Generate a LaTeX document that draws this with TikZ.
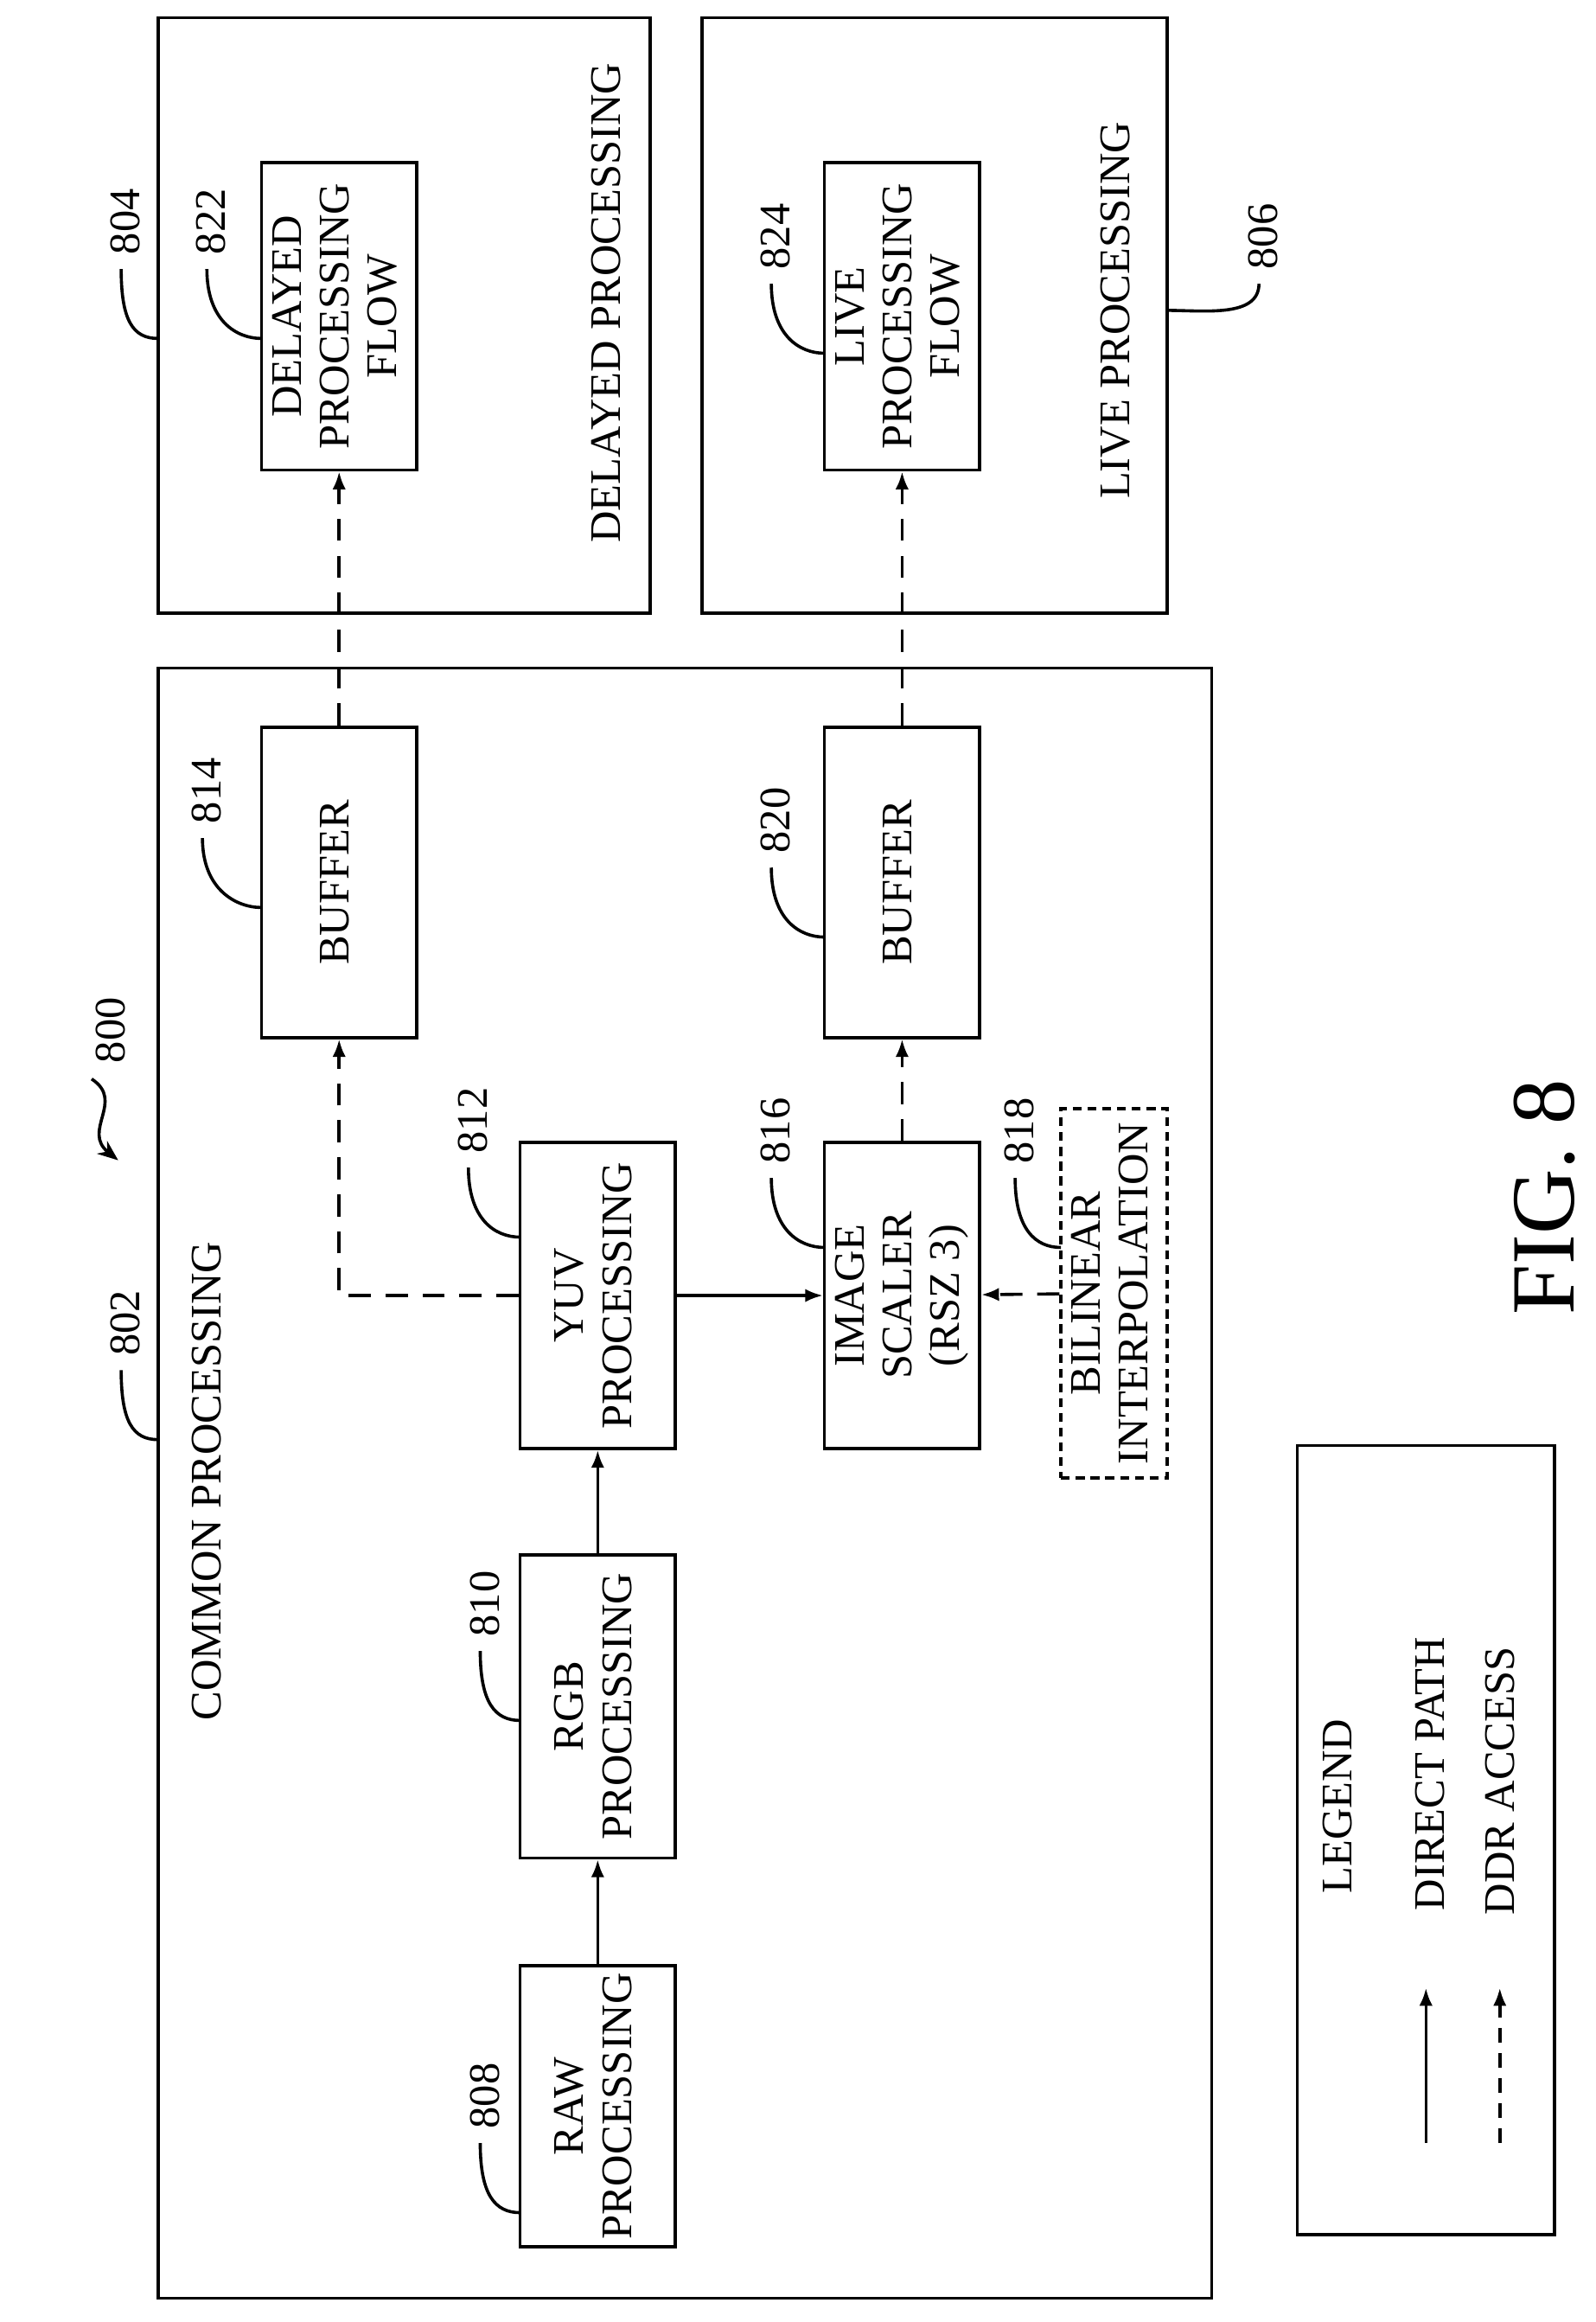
\documentclass[tikz,border=0pt]{standalone}
\usepackage{fontspec}
\setmainfont{Liberation Serif}
\usetikzlibrary{arrows.meta,positioning}
\newcommand{\vtext}[1]{\rotatebox{90}{\begin{tabular}{@{}c@{}}#1\end{tabular}}}
\tikzset{
  box/.style={draw,line width=3pt,inner sep=0pt,font=\fontsize{42}{46}\selectfont},
  blk/.style={box,minimum width=5.25cm},
  txt/.style={rotate=90,align=center,font=\fontsize{42}{46}\selectfont},
  lbl/.style={rotate=90,font=\fontsize{42}{46}\selectfont},
  dir/.style={line width=3pt,-{Latex[length=0.6cm,width=0.45cm]}},
  ddr/.style={dir,dash pattern=on 0.75cm off 0.5cm},
  lead/.style={line width=3pt}
}
\begin{document}
\begin{tikzpicture}[x=0.05cm,y=-0.05cm]
  \useasboundingbox (0,0) rectangle (1080,1571);
  % Frames
  \node[box,minimum width=35.65cm,minimum height=55.15cm] (common) at (463.5,1003.5) {};
  \node[box,minimum width=16.65cm,minimum height=20.15cm] (delayed) at (273.5,213.5) {};
  \node[box,minimum width=15.75cm,minimum height=20.15cm] (live) at (632.5,213.5) {};
  \node[box,minimum width=8.7cm,minimum height=26.7cm] (legend) at (965,1245) {};
  \node[txt] at (140,1002) {COMMON PROCESSING};
  \node[txt] at (410,205) {DELAYED PROCESSING};
  \node[txt] at (755,210) {LIVE PROCESSING};
  % Blocks
  \node[blk,minimum height=9.5cm] (raw) at (404.5,1425) {\vtext{RAW\\PROCESSING}};
  \node[blk,minimum height=10.25cm] (rgb) at (404.5,1154.5) {\vtext{RGB\\PROCESSING}};
  \node[blk,minimum height=10.35cm] (yuv) at (404.5,876.5) {\vtext{YUV\\PROCESSING}};
  \node[blk,minimum height=10.5cm] (buf1) at (229.5,597) {\vtext{BUFFER}};
  \node[blk,minimum height=10.35cm] (scaler) at (610.5,876.5) {\vtext{IMAGE\\SCALER\\(RSZ 3)}};
  \node[blk,minimum height=10.5cm] (buf2) at (610.5,597) {\vtext{BUFFER}};
  \node[blk,minimum height=10.4cm] (dpf) at (229.5,214) {\vtext{DELAYED\\PROCESSING\\FLOW}};
  \node[blk,minimum height=10.4cm] (lpf) at (610.5,214) {\vtext{LIVE\\PROCESSING\\FLOW}};
  \node[box,dash pattern=on 0.3cm off 0.2cm,minimum width=3.6cm,minimum height=12.5cm] (bil) at (754,875) {\vtext{BILINEAR\\INTERPOLATION}};
  % Connectors
  \draw[dir] (raw) -- (rgb);
  \draw[dir] (rgb) -- (yuv);
  \draw[dir] (yuv) -- (scaler);
  \draw[ddr] (bil) -- (scaler);
  \draw[ddr] (yuv.west) -| (buf1.south);
  \draw[ddr] (scaler) -- (buf2);
  \draw[ddr] (buf1) -- (dpf);
  \draw[ddr] (buf2) -- (lpf);
  % Legend
  \node[txt] at (905,1222) {LEGEND};
  \node[txt] at (968,1200) {DIRECT PATH};
  \node[txt] at (1015,1205) {DDR ACCESS};
  \coordinate (s1) at (965,1450); \coordinate (e1) at (965,1345);
  \coordinate (s2) at (1015,1450); \coordinate (e2) at (1015,1345);
  \draw[dir] (s1) -- (e1);
  \draw[ddr,dash pattern=on 0.5cm off 0.35cm] (s2) -- (e2);
  \node[lbl,font=\fontsize{87}{90}\selectfont] at (1045,810) {FIG. 8};
  % Reference numerals
  \foreach \n/\lx/\ly/\bx in {808/328/1418/352, 810/328/1085/352, 812/320/758/352,
      814/140/535/177, 816/525/765/558, 818/690/765/718, 820/525/555/558,
      822/143/150/177, 824/525/160/558, 802/85/895/107, 804/85/150/107} {
    \node[lbl] (n\n) at (\lx,\ly) {\n};
    \draw[lead] (\lx-3,\ly+32) .. controls (\lx-3,\ly+67) and (\bx-17,\ly+79) .. (\bx,\ly+79);
  }
  \node[lbl] (n806) at (855,160) {806};
  \draw[lead] (852,192) .. controls (852,215) and (815,210) .. (790,210);
  \node[lbl] (n800) at (75,697) {800};
  \draw[line width=3pt,-{Stealth[length=0.7cm,width=0.55cm]}] (62,730) .. controls (85,745) and (55,765) .. (80,785);
\end{tikzpicture}
\end{document}
